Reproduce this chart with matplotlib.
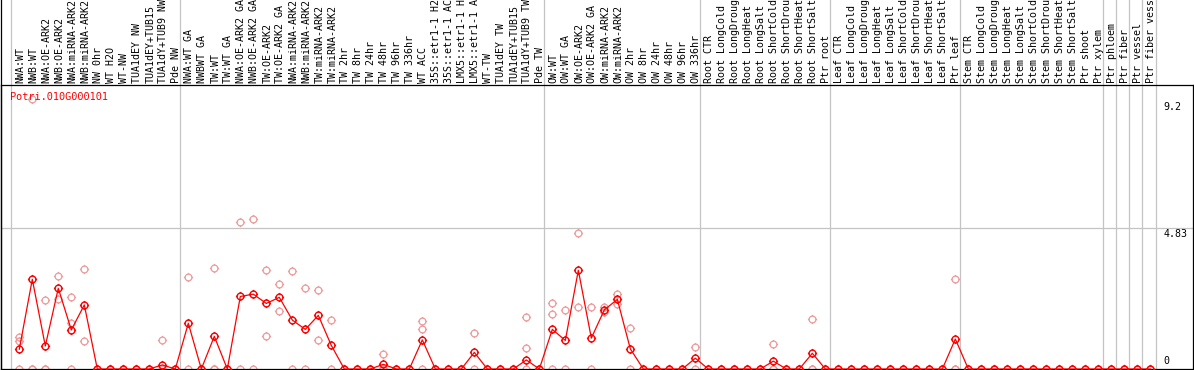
import matplotlib
matplotlib.use("Agg")
import matplotlib.pyplot as plt
from matplotlib.path import Path
from matplotlib.transforms import blended_transform_factory

# Sample labels (already cut to 14 chars, as in the source chart)
labels = [
    "NWA:WT", "NWB:WT", "NWA:OE-ARK2", "NWB:OE-ARK2", "NWA:miRNA-ARK2",
    "NWB:miRNA-ARK2", "NW 0hr", "WT H2O", "WT-NW", "TUA1dEY NW",
    "TUA1dEY+TUB15", "TUA1dY+TUB9 NW", "Pde NW",
    "NWA:WT GA", "NWBWT GA", "TW:WT", "TW:WT GA", "NWA:OE-ARK2 GA",
    "NWB:OE-ARK2 GA", "TW:OE-ARK2", "TW:OE-ARK2 GA", "NWA:miRNA-ARK2",
    "NWB:miRNA-ARK2", "TW:miRNA-ARK2", "TW:miRNA-ARK2", "TW 2hr", "TW 8hr",
    "TW 24hr", "TW 48hr", "TW 96hr", "TW 336hr", "WT ACC", "35S::etr1-1 H2",
    "35S::etr1-1 AC", "LMX5::etr1-1 H", "LMX5::etr1-1 A", "WT-TW",
    "TUA1dEY TW", "TUA1dEY+TUB15", "TUA1dY+TUB9 TW", "Pde TW",
    "OW:WT", "OW:WT GA", "OW:OE-ARK2", "OW:OE-ARK2 GA", "OW:miRNA-ARK2",
    "OW:miRNA-ARK2", "OW 2hr", "OW 8hr", "OW 24hr", "OW 48hr", "OW 96hr",
    "OW 336hr",
    "Root CTR", "Root LongCold", "Root LongDroug", "Root LongHeat",
    "Root LongSalt", "Root ShortCold", "Root ShortDrou", "Root ShortHeat",
    "Root ShortSalt", "Ptr root",
    "Leaf CTR", "Leaf LongCold", "Leaf LongDroug", "Leaf LongHeat",
    "Leaf LongSalt", "Leaf ShortCold", "Leaf ShortDrou", "Leaf ShortHeat",
    "Leaf ShortSalt", "Ptr leaf",
    "Stem CTR", "Stem LongCold", "Stem LongDroug", "Stem LongHeat",
    "Stem LongSalt", "Stem ShortCold", "Stem ShortDrou", "Stem ShortHeat",
    "Stem ShortSalt", "Ptr shoot", "Ptr xylem",
    "Ptr phloem", "Ptr fiber", "Ptr vessel", "Ptr fiber vess",
]

# Mean expression per sample
means = [
    0.68, 3.08, 0.79, 2.77, 1.34, 2.20, 0, 0, 0, 0, 0, 0.14, 0,
    1.57, 0, 1.12, 0, 2.49, 2.57, 2.25, 2.46, 1.68, 1.36, 1.84, 0.81,
    0, 0, 0, 0.16, 0, 0, 1.00, 0, 0, 0, 0.57, 0, 0, 0, 0.31, 0,
    1.36, 0.98, 3.39, 1.06, 2.03, 2.39, 0.69, 0, 0, 0, 0, 0.37,
    0, 0, 0, 0, 0, 0.27, 0, 0, 0.54, 0,
    0, 0, 0, 0, 0, 0, 0, 0, 0, 1.03,
    0, 0, 0, 0, 0, 0, 0, 0, 0, 0, 0,
    0, 0, 0, 0,
]

# Individual replicate values per sample
replicates = [
    [1.11, 0.97, 0], [9.28, 0, 0], [2.36, 0, 0], [3.18, 2.40],
    [2.46, 1.59, 0], [3.42, 0.96], [0, 0], [0, 0], [0, 0], [0, 0], [0, 0],
    [1.00, 0], [0, 0],
    [3.15, 0], [0, 0], [3.46, 0, 0], [0, 0], [5.03, 0], [5.14, 0],
    [3.39, 1.12], [2.91, 1.99], [3.36, 0], [2.77, 0], [2.71, 0.98],
    [1.68, 0], [0, 0], [0, 0], [0, 0], [0.50, 0, 0], [0, 0], [0, 0],
    [1.65, 1.36, 0], [0, 0], [0, 0], [0, 0], [1.22, 0], [0, 0], [0, 0],
    [0, 0], [1.77, 0.71, 0], [0, 0],
    [2.27, 1.89, 0], [2.03, 0], [4.67, 2.12], [2.12, 0], [2.12, 1.97],
    [2.57, 2.23], [1.40, 0], [0, 0], [0, 0], [0, 0], [0, 0], [0.74, 0],
    [0, 0], [0, 0], [0, 0], [0, 0], [0, 0], [0.85, 0, 0], [0, 0], [0, 0],
    [1.71, 0, 0], [0, 0],
    [0, 0], [0, 0], [0, 0], [0, 0], [0, 0], [0, 0], [0, 0], [0, 0], [0, 0],
    [3.10, 0, 0],
    [0, 0], [0, 0], [0, 0], [0, 0], [0, 0], [0, 0], [0, 0], [0, 0], [0, 0],
    [0, 0], [0, 0],
    [0, 0], [0, 0], [0, 0], [0, 0],
]

# First sample index of each tissue / experiment block
group_starts = [0, 13, 41, 53, 63, 73, 84, 85, 86, 87]
y_ticks = [9.2, 4.83, 0]
gene_id = "Potri.010G000101"


def ring_marker():
    # open circle with four short ticks sticking out
    parts = [Path.unit_circle()]
    for dx, dy in [(0, 1), (0, -1), (1, 0), (-1, 0)]:
        parts.append(Path([(dx, dy), (dx * 1.35, dy * 1.35)],
                          [Path.MOVETO, Path.LINETO]))
    return Path.make_compound_path(*parts)


def main():
    W, H = 1194, 370
    fig = plt.figure(figsize=(W / 100, H / 100), dpi=100)
    fig.patch.set_facecolor("white")
    ax = fig.add_axes([1 / W, 1 / H, 1192 / W, 284 / H])

    n = len(labels)
    xs = list(range(n))
    ax.set_xlim(-1.408, 90.28)
    ax.set_ylim(0, 9.75)
    ax.set_xticks([])
    ax.set_yticks([])
    for sp in ax.spines.values():
        sp.set_color("black")
        sp.set_linewidth(0.9)

    grid = "#c4c4c4"
    ax.axhline(4.83, color=grid, lw=0.9, zorder=1)

    # block separators run up through the label strip
    top = 1 + 85 / 284
    for s in group_starts:
        ax.axvline(s - 0.64, ymin=0, ymax=top, clip_on=False,
                   color=grid, lw=0.9, zorder=1)
    ax.axvline(n - 1 + 0.42, ymin=0, ymax=top, clip_on=False,
               color=grid, lw=0.9, zorder=1)

    # left border goes up to the top of the figure
    fig.add_artist(plt.Line2D([1.2 / W, 1.2 / W], [0, 1], color="black",
                              lw=0.9, transform=fig.transFigure))

    mono = "DejaVu Sans Mono"
    trans = blended_transform_factory(ax.transData, ax.transAxes)
    for i, lab in enumerate(labels):
        ax.text(i + 0.08, 1 + 2 / 284, lab, rotation=90, ha="center",
                va="bottom", fontsize=7.2, family=mono, transform=trans,
                clip_on=False)

    # replicate points
    rep_x, rep_y = [], []
    for i, reps in enumerate(replicates):
        for v in reps:
            rep_x.append(i)
            rep_y.append(v)
    marker = ring_marker()
    ax.plot(rep_x, rep_y, ls="none", marker=marker, mfc="none",
            mec="#ee9a9a", mew=0.9, ms=6.6, zorder=2)

    # mean line
    ax.plot(xs, means, color="red", lw=0.9, marker=marker, mfc="none",
            mec="red", mew=1.0, ms=6.6, zorder=3)

    # value labels on the right
    lx = 87.98
    ax.text(lx, y_ticks[0] - 0.02, "9.2", ha="left", va="top",
            fontsize=7.2, family=mono)
    ax.text(lx, y_ticks[1] - 0.02, "4.83", ha="left", va="top",
            fontsize=7.2, family=mono)
    ax.text(lx, y_ticks[2] + 0.1, "0", ha="left", va="bottom",
            fontsize=7.2, family=mono)

    ax.text(-0.715, 9.35, gene_id, ha="left", va="center", color="red",
            fontsize=7.4, family=mono)

    fig.savefig("out.png", dpi=100)


if __name__ == "__main__":
    main()
